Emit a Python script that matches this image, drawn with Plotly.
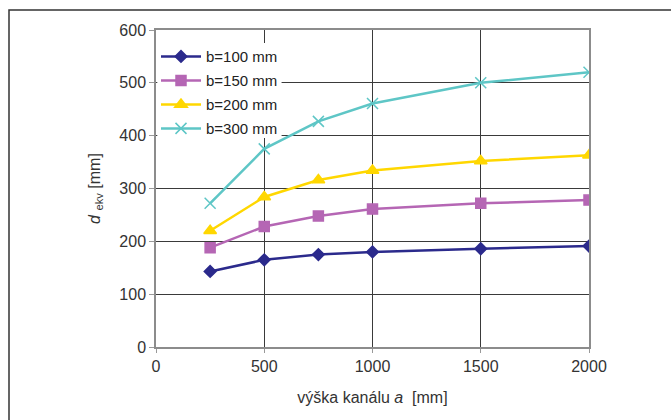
import plotly.graph_objects as go

# channel height a [mm]
vyska = [250, 500, 750, 1000, 1500, 2000]

# equivalent diameter d_ekv [mm] for each channel width b
d_b100 = [143, 165, 175, 180, 186, 191]
d_b150 = [188, 228, 248, 261, 272, 278]
d_b200 = [220, 284, 316, 334, 352, 363]
d_b300 = [272, 375, 427, 461, 500, 520]

series_names = ["b=100 mm", "b=150 mm", "b=200 mm", "b=300 mm"]
x_ticks = [0, 500, 1000, 1500, 2000]
y_ticks = [0, 100, 200, 300, 400, 500, 600]

styles = [
    dict(color="#2B2A8C", symbol="diamond", size=9),
    dict(color="#B566B4", symbol="square", size=10),
    dict(color="#FFD700", symbol="triangle-up", size=11),
    dict(color="#5EC6C6", symbol="x-thin", size=11),
]

fig = go.Figure()
for name, vals, st in zip(series_names, [d_b100, d_b150, d_b200, d_b300], styles):
    fig.add_trace(go.Scatter(
        x=vyska, y=vals, name=name, mode="lines+markers", legendgroup=name,
        line=dict(color=st["color"], width=2.5),
        marker=dict(symbol=st["symbol"], size=st["size"], color=st["color"],
                    line=dict(color=st["color"], width=1.5)),
    ))

grid_col = "#3a3a3a"
fig.update_layout(
    width=671, height=420,
    margin=dict(l=156, r=82, t=30, b=73),
    paper_bgcolor="white", plot_bgcolor="white",
    font=dict(family="Liberation Sans, Arial, sans-serif", color="#333333"),
    showlegend=True,
    legend=dict(x=0.0, y=0.968, xanchor="left", yanchor="top",
                bgcolor="rgba(255,255,255,0)", font=dict(size=15, color="#222222"),
                itemwidth=40, tracegroupgap=1.5),
    xaxis=dict(range=[0, 2000], tickvals=x_ticks, ticks="outside", ticklen=4,
               tickcolor="#999999", showgrid=True, gridcolor=grid_col, gridwidth=1.2,
               showline=True, linecolor="#8c8c8c", linewidth=1.5, mirror=True,
               zeroline=False, tickfont=dict(size=16, color="#333333"),
               title=dict(text="výška kanálu <i>a</i>  [mm]", font=dict(size=16, color="#333333"),
                          standoff=18)),
    yaxis=dict(range=[0, 600], tickvals=y_ticks, ticks="outside", ticklen=5,
               tickcolor="#999999", showgrid=True, gridcolor=grid_col, gridwidth=1.2,
               showline=True, linecolor="#8c8c8c", linewidth=1.5, mirror=True,
               zeroline=False, tickfont=dict(size=16, color="#333333"),
               title=dict(text="<i>d</i> <sub>ekv</sub> [mm]", font=dict(size=16, color="#333333"),
                          standoff=15)),
    shapes=[
        # outer frame around the whole figure
        dict(type="rect", xref="paper", yref="paper",
             x0=(9 - 156) / 433, x1=(700 - 156) / 433,
             y0=(347 - 440) / 317, y1=(347 - 10) / 317,
             line=dict(color="#333333", width=1.5), layer="below"),
        # white backing behind the legend, hiding the gridlines there
        dict(type="rect", xref="paper", yref="paper",
             x0=0.003, x1=0.29, y0=0.659, y1=0.959,
             fillcolor="white", line=dict(width=0), layer="above"),
    ],
)

fig.write_html("out.html")
